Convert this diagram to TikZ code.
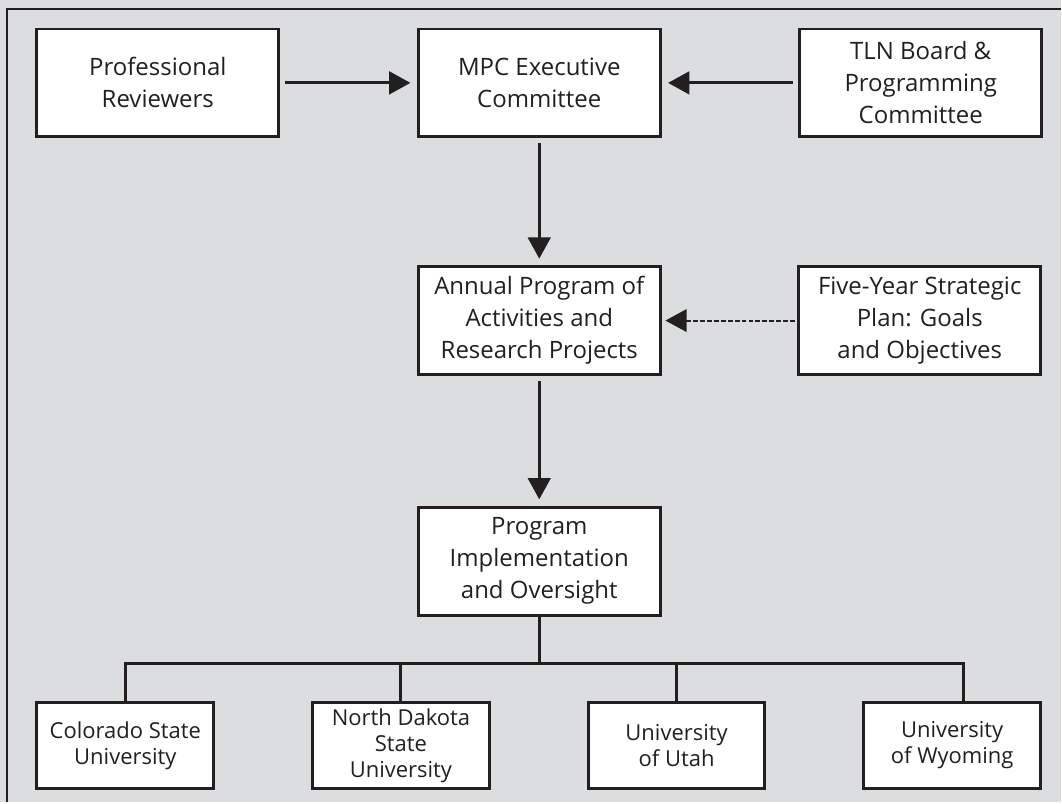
\documentclass[tikz,border=0pt]{standalone}
\usepackage{fontspec}
\setmainfont{Open Sans}
\usetikzlibrary{arrows.meta,positioning}
\definecolor{bgGray}{RGB}{220,221,223}
\definecolor{inkDark}{RGB}{35,31,32}

\begin{document}
\begin{tikzpicture}[x=0.75pt, y=-0.75pt, >={Triangle[length=16pt,width=17pt]}, inkDark]
			\tikzset{block/.style= {draw, rectangle, fill=white, line width=2.2pt, align=center, outer sep=0pt, inner sep=2pt,
          font=\fontsize{18}{24}\selectfont, minimum width=181.5pt, minimum height=81pt},
        uniblock/.style={block, font=\fontsize{16.5}{19.5}\selectfont, minimum width=132.75pt, minimum height=65.25pt},
        flow/.style={draw, line width=2.2pt, ->, shorten <=5pt, shorten >=6pt},
        hint/.style={draw, line width=1.5pt, ->, dash pattern=on 3.6pt off 1.6pt, shorten <=3pt, shorten >=4pt},
        link/.style={draw, line width=2.2pt},
        }

			% background and frame
			\fill[bgGray] (0,0) rectangle (1062,803);
			\draw[line width=2.2pt] (7,803) -- (7,9) -- (1062,9);

			\node [block] at (158,83) (reviewers) {Professional\\Reviewers};
			\node [block, right=105pt of reviewers] (mpc) {MPC Executive\\Committee};
			\node [block, right=105pt of mpc] (tln) {TLN Board \&\\Programming\\Committee};
			\node [block, below=97.5pt of mpc] (annual) {Annual Program of\\Activities and\\Research Projects};
			\node [block, right=104.25pt of annual] (plan) {Five-Year Strategic\\Plan: Goals\\and Objectives};
			\node [block, below=99.75pt of annual] (impl) {Program\\Implementation\\and Oversight};

			\node [uniblock] at (125.5,746.5) (csu) {Colorado State\\University};
			\node [uniblock, right=74.25pt of csu] (ndsu) {North Dakota\\State\\University};
			\node [uniblock, right=74.25pt of ndsu] (utah) {University\\of Utah};
			\node [uniblock, right=74.25pt of utah] (wyoming) {University\\of Wyoming};

			\path[flow] (reviewers) -- (mpc);
			\path[flow] (tln) -- (mpc);
			\path[flow] (mpc) -- (annual);
			\path[flow] (annual) -- (impl);
			\path[hint] (plan) -- (annual);

			% distribution to the universities
			\path[link] (impl.south) -- ++(0,-36pt) coordinate (bus);
			\path[link] (csu.north) |- (bus) -| ([xshift=8.6pt]wyoming.north);
			\path[link] (ndsu.north) -- (ndsu.north |- bus);
			\path[link] (utah.north) -- (utah.north |- bus);

		\end{tikzpicture}
\end{document}
